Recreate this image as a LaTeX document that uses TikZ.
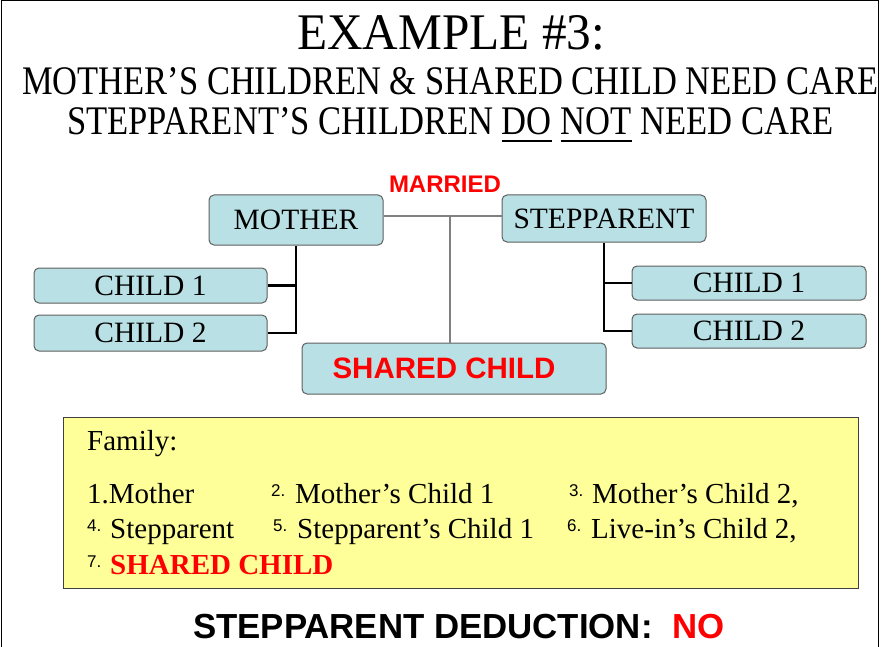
\documentclass[tikz,border=0pt]{standalone}
\usepackage{fontspec}
\setmainfont{Liberation Serif}
\newfontfamily\arial{Liberation Sans}
\usetikzlibrary{calc}
\definecolor{boxblue}{RGB}{185,224,228}
\definecolor{boxedge}{RGB}{95,95,95}
\definecolor{noteyellow}{RGB}{255,255,153}
\definecolor{pptred}{RGB}{255,0,0}
\definecolor{marline}{RGB}{128,128,128}
\newcommand{\boxfont}{\fontsize{29.5}{29.5}\selectfont}
\newcommand{\listfont}{\fontsize{29}{29}\selectfont}
\tikzset{
  famboxstyle/.style={draw=boxedge, line width=1pt, fill=boxblue, rounded corners=5pt, inner sep=0pt, font=\boxfont},
  kidline/.style={line width=2.4pt, black},
  marriedline/.style={line width=1.2pt, marline},
  itemtext/.style={anchor=base west, inner sep=0pt, font=\listfont},
  numtext/.style={anchor=base west, inner sep=0pt, font=\arial\fontsize{17}{17}\selectfont},
  titletext/.style={anchor=base west, inner sep=0pt}
}
\begin{document}
\begin{tikzpicture}[x=1pt, y=-1pt]
\useasboundingbox (0,0) rectangle (883,647);
% frame
\draw[line width=1pt] (1,647) -- (1,1) -- (878,1) -- (878,647);
% titles
\node[titletext] (t1) at (297,50) {\resizebox{308pt}{34pt}{EXAMPLE \#3:}};
\node[titletext] (t2) at (22,95) {\resizebox{856pt}{27pt}{MOTHER’S CHILDREN \& SHARED CHILD NEED CARE}};
\node[titletext] (t3) at (67,135) {\resizebox{766pt}{27pt}{STEPPARENT’S CHILDREN \underline{DO} \underline{NOT} NEED CARE}};
% family tree
\node[famboxstyle, minimum width=174pt, minimum height=50pt] (mother) at (296,220) {MOTHER};
\node[famboxstyle, minimum width=204pt, minimum height=47pt] (step) at (604,218.5) {STEPPARENT};
\node[famboxstyle, minimum width=233pt, minimum height=35pt] (mc1) at (150.5,285.5) {CHILD 1};
\node[famboxstyle, minimum width=233pt, minimum height=36pt] (mc2) at (150.5,333) {CHILD 2};
\node[famboxstyle, minimum width=234pt, minimum height=34pt] (sc1) at (749,283) {CHILD 1};
\node[famboxstyle, minimum width=234pt, minimum height=34pt] (sc2) at (749,331) {CHILD 2};
\node[famboxstyle, minimum width=304pt, minimum height=51pt, text=pptred, font=\arial\bfseries\fontsize{29.5}{29.5}\selectfont] (shared) at (454,368.5) {SHARED CHILD\rule{20pt}{0pt}};
\node[text=pptred, inner sep=0pt, font=\arial\bfseries\fontsize{24}{24}\selectfont] (married) at (445,184.5) {MARRIED};
\coordinate (mid) at (450,216);
\draw[marriedline] (mother.east |- mid) -- (step.west |- mid);
\draw[marriedline] (mid) -- (mid |- shared.north);
\draw[kidline] (mother.south) -- (mother.south |- mc2.east) -- (mc2.east);
\draw[kidline] (mc1.east) -- (mc1.east -| mother.south);
\draw[kidline] (step.south) -- (step.south |- sc2.west) -- (sc2.west);
\draw[kidline] (sc1.west) -- (sc1.west -| step.south);
% family list
\node[draw=black!75, line width=1pt, fill=noteyellow, minimum width=795pt, minimum height=171pt, inner sep=0pt] (famlist) at (460.5,502.5) {};
\node[itemtext] (fam) at (87,450) {Family:};
\node[itemtext] (i1) at (87,503) {1.Mother};
\node[numtext] (n2) at (271,496) {2.};
\node[itemtext] (i2) at (295,503) {Mother’s Child 1};
\node[numtext] (n3) at (569,496) {3.};
\node[itemtext] (i3) at (592,503) {Mother’s Child 2,};
\node[numtext] (n4) at (87,531) {4.};
\node[itemtext] (i4) at (110,538) {Stepparent};
\node[numtext] (n5) at (273,531) {5.};
\node[itemtext] (i5) at (297,538) {Stepparent’s Child 1};
\node[numtext] (n6) at (567,531) {6.};
\node[itemtext] (i6) at (591,538) {Live-in’s Child 2,};
\node[numtext] (n7) at (87,567) {7.};
\node[itemtext, text=pptred, font=\listfont\bfseries] (i7) at (110,574) {SHARED CHILD};
% deduction
\node[anchor=base west, inner sep=0pt, font=\arial\bfseries\fontsize{34.8}{34.8}\selectfont] (ded) at (193,638) {STEPPARENT DEDUCTION:\ \ \textcolor{pptred}{NO}};
\end{tikzpicture}
\end{document}
